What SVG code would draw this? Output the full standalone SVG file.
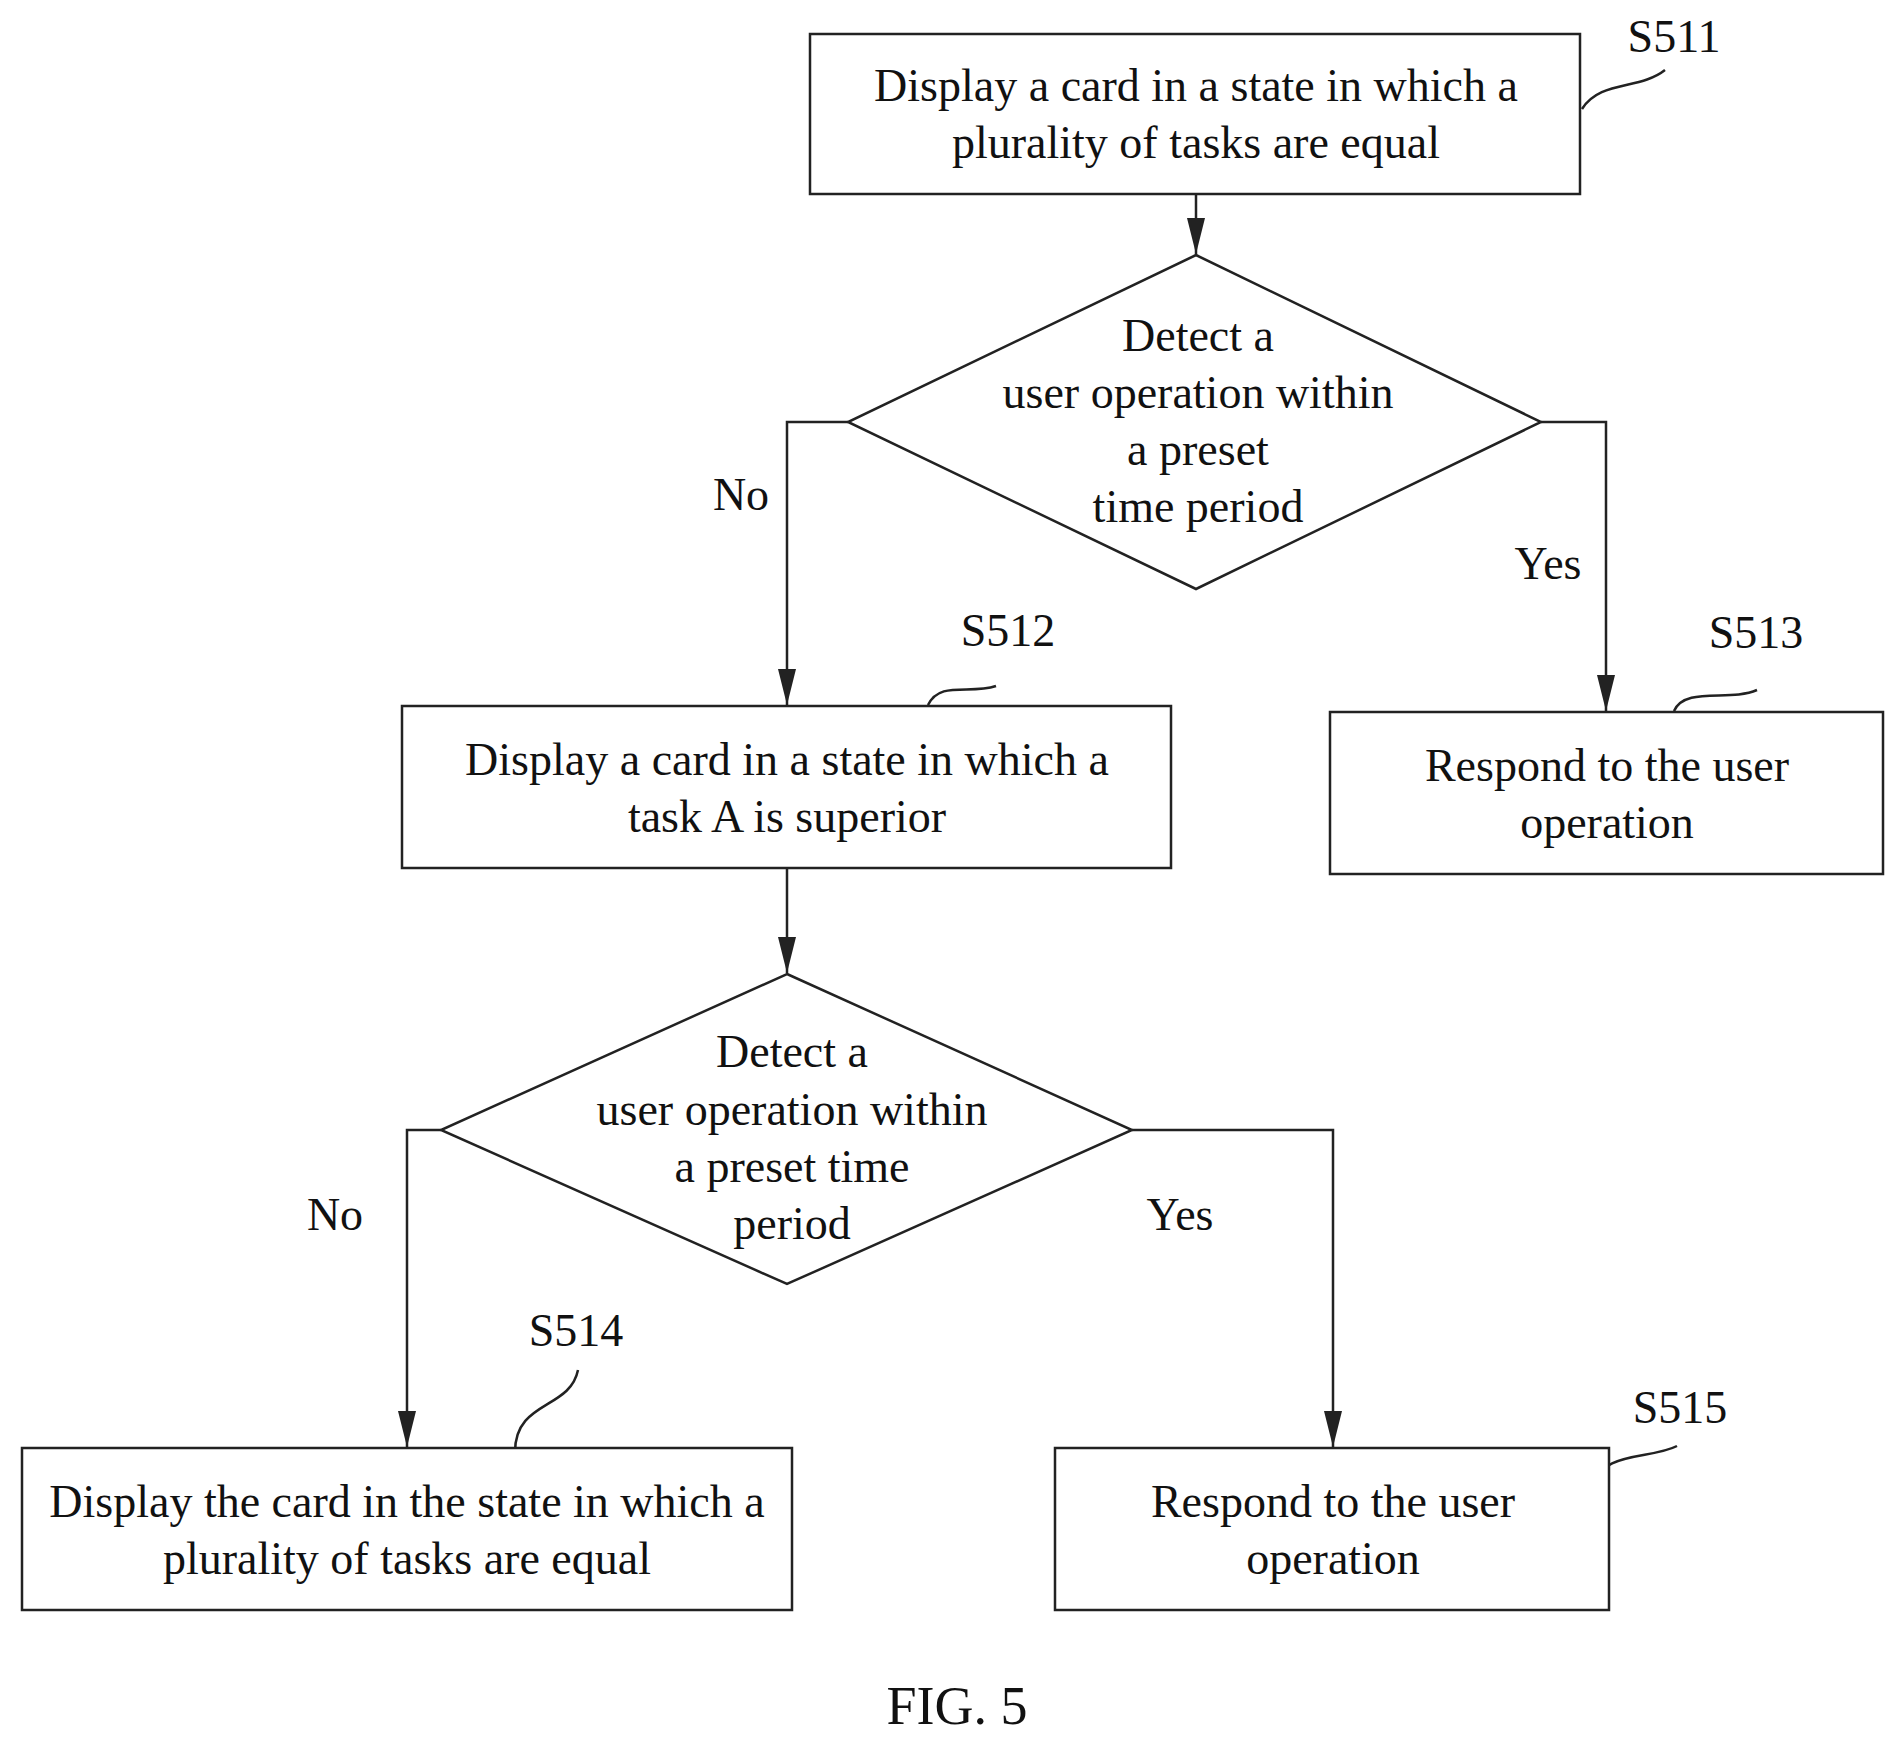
<svg xmlns="http://www.w3.org/2000/svg" width="1896" height="1738" viewBox="0 0 1896 1738">
<style>
text{font-family:"Liberation Serif",serif;font-size:46px;fill:#111;text-anchor:middle}
.s{fill:#fff;stroke:#222;stroke-width:2.5}
.c{fill:none;stroke:#222;stroke-width:2.5}
</style>
<defs><marker id="a" markerWidth="36" markerHeight="18" refX="36" refY="9" orient="auto" markerUnits="userSpaceOnUse" viewBox="0 0 36 18"><path d="M0,0 L36,9 L0,18 z" fill="#222"/></marker></defs>
<rect width="1896" height="1738" fill="#fff"/>
<g id="connectors">
<path class="c" d="M1196,194 V254" marker-end="url(#a)"/>
<path class="c" d="M848,422 H787 V705" marker-end="url(#a)"/>
<path class="c" d="M1541,422 H1606 V711" marker-end="url(#a)"/>
<path class="c" d="M787,868 V973" marker-end="url(#a)"/>
<path class="c" d="M441,1130 H407 V1447" marker-end="url(#a)"/>
<path class="c" d="M1132,1130 H1333 V1447" marker-end="url(#a)"/>
<path class="c" d="M1582,109 C1600,80 1640,90 1665,70"/>
<path class="c" d="M928,705 C940,680 970,695 996,686"/>
<path class="c" d="M1674,711 C1685,686 1730,702 1757,690"/>
<path class="c" d="M515,1452 C515,1400 570,1410 578,1370"/>
<path class="c" d="M1594,1488 C1600,1450 1650,1460 1677,1446"/>
<text x="741" y="510">No</text>
<text x="1548" y="579">Yes</text>
<text x="335" y="1230">No</text>
<text x="1180" y="1230">Yes</text>
</g>
<g id="S511"><rect class="s" x="810" y="34" width="770" height="160"/><text x="1196" y="101">Display a card in a state in which a</text><text x="1196" y="158">plurality of tasks are equal</text><text x="1674" y="52">S511</text></g>
<g id="D1"><path class="s" d="M1196,255 L1541,422 L1196,589 L848,422 z"/><text x="1198" y="351">Detect a</text><text x="1198" y="408">user operation within</text><text x="1198" y="465">a preset</text><text x="1198" y="522">time period</text></g>
<g id="S512"><rect class="s" x="402" y="706" width="769" height="162"/><text x="787" y="775">Display a card in a state in which a</text><text x="787" y="832">task A is superior</text><text x="1008" y="646">S512</text></g>
<g id="S513"><rect class="s" x="1330" y="712" width="553" height="162"/><text x="1607" y="781">Respond to the user</text><text x="1607" y="838">operation</text><text x="1756" y="648">S513</text></g>
<g id="D2"><path class="s" d="M787,974 L1132,1130 L787,1284 L441,1130 z"/><text x="792" y="1067">Detect a</text><text x="792" y="1125">user operation within</text><text x="792" y="1182">a preset time</text><text x="792" y="1239">period</text></g>
<g id="S514"><rect class="s" x="22" y="1448" width="770" height="162"/><text x="407" y="1517">Display the card in the state in which a</text><text x="407" y="1574">plurality of tasks are equal</text><text x="576" y="1346">S514</text></g>
<g id="S515"><rect class="s" x="1055" y="1448" width="554" height="162"/><text x="1333" y="1517">Respond to the user</text><text x="1333" y="1574">operation</text><text x="1680" y="1423">S515</text></g>
<text x="957" y="1724" style="font-size:54px">FIG. 5</text>
</svg>
